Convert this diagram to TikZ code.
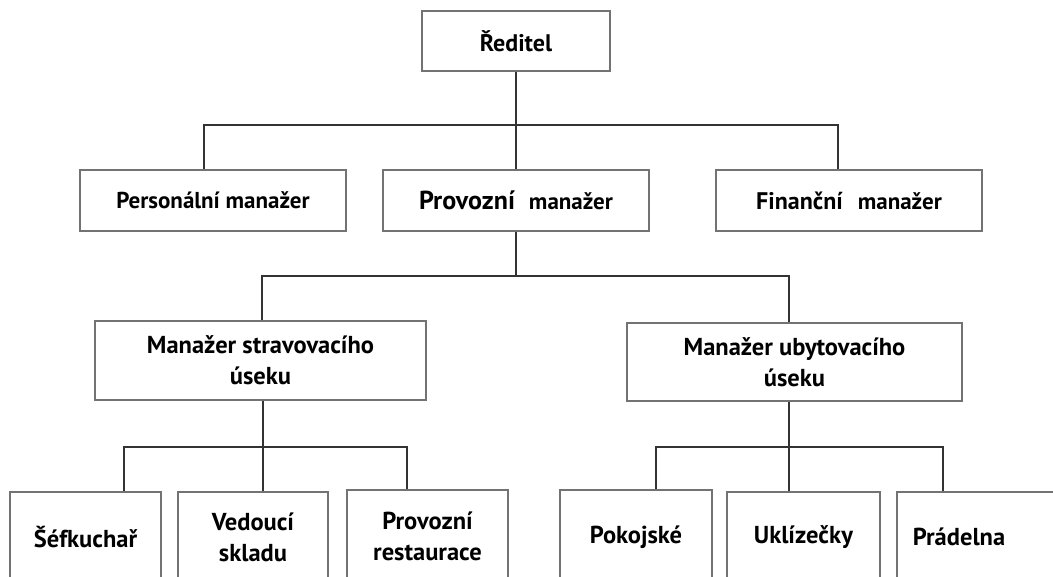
\documentclass[tikz,border=0pt]{standalone}
\usepackage{fontspec}
\setmainfont{PT Sans}
\begin{document}
\begin{tikzpicture}[x=1pt,y=-1pt,
  box/.style={draw=black!55,line width=1.1pt,rectangle,inner sep=0pt,
    font=\bfseries\fontsize{23}{26}\selectfont,align=center},
  big/.style={font=\bfseries\fontsize{24.5}{31}\selectfont},
  conn/.style={draw=black!80,line width=1.1pt}]
\useasboundingbox (0,0) rectangle (1053,577);
\clip (0,0) rectangle (1053,577);
\fill[white] (0,0) rectangle (1053,577);

% top level
\node[box,minimum width=188pt,minimum height=60pt,font=\bfseries\fontsize{24}{26}\selectfont] (red) at (516,41) {Ředitel};

% managers
\node[box,minimum width=266pt,minimum height=61pt] (pers) at (213,200.5) {Personální manažer};
\node[box,minimum width=266pt,minimum height=61pt,font=\bfseries\fontsize{26}{28}\selectfont] (prov) at (516,200.5)
  {Provozní\hspace{14pt}{\fontsize{23}{26}\selectfont manažer}};
\node[box,minimum width=266pt,minimum height=61pt,font=\bfseries\fontsize{24}{26}\selectfont] (fin) at (849,200.5)
  {Finanční\hspace{15pt}{\fontsize{23}{26}\selectfont manažer}};

% section managers
\node[box,big,minimum width=331pt,minimum height=79pt] (strav) at (260.5,360.5)
  {Manažer stravovacího\\úseku};
\node[box,big,minimum width=335pt,minimum height=78pt] (ubyt) at (794.5,362)
  {Manažer ubytovacího\\úseku};

% staff
\node[box,big,minimum width=151pt,minimum height=90pt] (sef) at (85.5,537) {Šéfkuchař};
\node[box,big,minimum width=150pt,minimum height=90pt] (ved) at (253,537) {Vedoucí\\skladu};
\node[box,big,minimum width=161pt,minimum height=92pt] (rest) at (427.5,536) {Provozní\\restaurace};
\node[box,big,minimum width=152pt,minimum height=94pt] (pok) at (636,537) {Pokojské};
\node[box,big,minimum width=153pt,minimum height=90pt] (ukl) at (803.5,537) {Uklízečky};
\node[box,minimum width=173pt,minimum height=90pt] (prad) at (983.5,537) {};
\node[big,inner sep=0pt] (pradtxt) at (959,537) {Prádelna};

% connectors: director to managers
\coordinate (b1) at (516,125);
\draw[conn] (red.south) -- (b1);
\draw[conn] ([xshift=-9pt]pers.north) |- ([xshift=-11pt]fin.north |- b1) -- ([xshift=-11pt]fin.north);
\draw[conn] (b1) -- (prov.north);

% operations manager to section managers
\coordinate (b2) at (516,276);
\draw[conn] (prov.south) -- (b2);
\draw[conn] ([xshift=1.5pt]strav.north) |- ([xshift=-5.5pt]ubyt.north |- b2) -- ([xshift=-5.5pt]ubyt.north);

% food section
\coordinate (b3) at (263,447);
\draw[conn] ([xshift=2.5pt]strav.south) -- (b3);
\draw[conn] ([xshift=38.5pt]sef.north) |- ([xshift=-20.5pt]rest.north |- b3) -- ([xshift=-20.5pt]rest.north);
\draw[conn] (b3) -- ([xshift=10pt]ved.north);

% accommodation section
\coordinate (b4) at (789,447);
\draw[conn] ([xshift=-5.5pt]ubyt.south) -- (b4);
\draw[conn] ([xshift=20pt]pok.north) |- ([xshift=-40.5pt]prad.north |- b4) -- ([xshift=-40.5pt]prad.north);
\draw[conn] (b4) -- ([xshift=-14.5pt]ukl.north);
\end{tikzpicture}
\end{document}
